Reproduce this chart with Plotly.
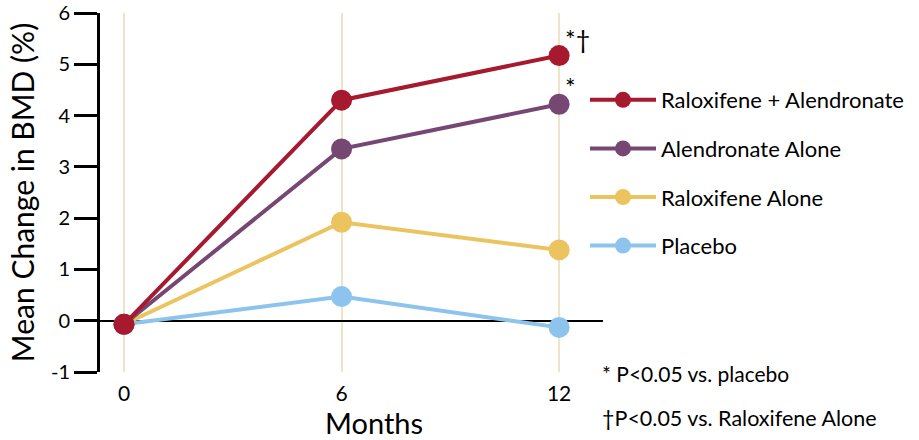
import plotly.graph_objects as go

months = [0, 6, 12]
series_names = ["Raloxifene + Alendronate", "Alendronate Alone", "Raloxifene Alone", "Placebo"]
combo = [-0.07, 4.30, 5.17]
alendronate = [-0.07, 3.35, 4.22]
raloxifene = [-0.07, 1.92, 1.38]
placebo = [-0.07, 0.47, -0.13]
colors = ["#a6192e", "#774774", "#ebc35f", "#8dc4ee"]
y_ticks = [-1, 0, 1, 2, 3, 4, 5, 6]
y_tick_text = ["-1", "0", "1", "2", "3", "4", "5", "6"]
x_ticks = [0, 6, 12]

FONT = "Lato"
values = [combo, alendronate, raloxifene, placebo]

fig = go.Figure()
# draw placebo first so combination is on top
for i in reversed(range(4)):
    fig.add_trace(go.Scatter(
        x=months, y=values[i], name=series_names[i], mode="lines+markers",
        line=dict(color=colors[i], width=4),
        marker=dict(color=colors[i], size=21),
        legendgroup=f"g{i}", legendrank=i + 1,
    ))

fig.add_annotation(x=12, y=combo[2], text="*†", showarrow=False, xanchor="left", yanchor="bottom",
                   xshift=4, yshift=0, font=dict(family=FONT, size=25, color="black"))
fig.add_annotation(x=12, y=alendronate[2], text="*", showarrow=False, xanchor="left", yanchor="bottom",
                   xshift=4, yshift=0, font=dict(family=FONT, size=25, color="black"))
fig.add_annotation(xref="paper", yref="paper", x=1.0, y=-0.005, text="* P<0.05 vs. placebo",
                   showarrow=False, xanchor="left", yanchor="middle", xshift=-3,
                   font=dict(family=FONT, size=21, color="black"))
fig.add_annotation(xref="paper", yref="paper", x=1.0, y=-0.128, text="†P<0.05 vs. Raloxifene Alone",
                   showarrow=False, xanchor="left", yanchor="middle", xshift=-3,
                   font=dict(family=FONT, size=21.5, color="black"))
fig.add_annotation(xref="paper", yref="paper", x=(374 - 100) / 503, y=-(423 - 372) / 359.5,
                   text="Months", showarrow=False, xanchor="center", yanchor="middle",
                   font=dict(family=FONT, size=29, color="black"))

fig.update_layout(
    width=919, height=440,
    margin=dict(l=100, r=316, t=12.5, b=68, autoexpand=False),
    plot_bgcolor="white", paper_bgcolor="white",
    font=dict(family=FONT, color="black", size=21),
    showlegend=True,
    legend=dict(
        xref="container", yref="container",
        x=585 / 919, y=1 - 79 / 440, xanchor="left", yanchor="top",
        font=dict(family=FONT, size=22, color="black"),
        itemwidth=66, tracegroupgap=17, bgcolor="rgba(0,0,0,0)",
    ),
    xaxis=dict(
        range=[-0.662, 13.21], tickmode="array", tickvals=x_ticks,
        ticktext=[str(t) for t in x_ticks],
        showgrid=True, gridcolor="#efe3c8", gridwidth=2,
        zeroline=False, showline=False, ticks="",
        tickfont=dict(size=21), ticklabelstandoff=7,
    ),
    yaxis=dict(
        range=[-1, 6], tickmode="array", tickvals=y_ticks, ticktext=y_tick_text,
        showgrid=False, zeroline=True, zerolinecolor="black", zerolinewidth=2,
        showline=True, linecolor="black", linewidth=3,
        ticks="outside", ticklen=23, tickwidth=3, tickcolor="black",
        tickfont=dict(size=20), ticklabeloverflow="allow",
        title=dict(text="Mean Change in BMD (%)", font=dict(size=30), standoff=8),
    ),
)

fig.write_html("out.html", post_script="document.body.style.margin='0';",
               config={"displayModeBar": False})
